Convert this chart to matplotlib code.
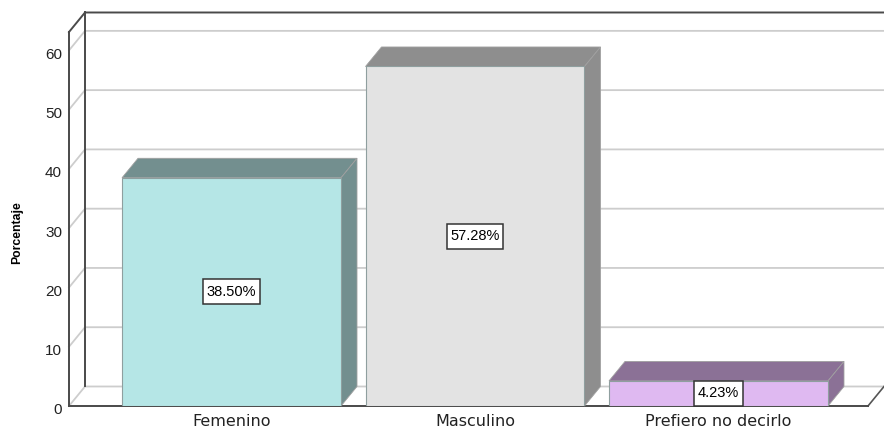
import matplotlib
matplotlib.use('Agg')
import matplotlib.pyplot as plt
from matplotlib.patches import Polygon
from matplotlib.path import Path
from matplotlib.transforms import ScaledTranslation

categories = ['Femenino', 'Masculino', 'Prefiero no decirlo']
values = [38.50, 57.28, 4.23]
bar_labels = ['38.50%', '57.28%', '4.23%']
front_colors = ['#b5e6e6', '#e3e3e3', '#dfb9f1']
side_colors = ['#738f8f', '#8e8e8e', '#8b7196']
y_ticks = [0, 10, 20, 30, 40, 50, 60]

W, H = 884, 430
fig = plt.figure(figsize=(W / 100, H / 100), dpi=100)
ax = fig.add_axes([69 / W, (H - 406) / H, 799 / W, 374 / H])

# one category step is 243.5 px, one y unit is 5.925 px
x_min, x_max = -0.6674, 2.614
y_min, y_max = 0, 63.1
ax.set_xlim(x_min, x_max)
ax.set_ylim(y_min, y_max)
bar_width = 219 / 243.5
dx = 16 / 243.5
dy = 19.5 / 5.925


def label_box(x0, y0, width, height, mutation_size):
    # value boxes are taller than a plain square pad gives
    px = 0.25 * mutation_size
    py = 0.38 * mutation_size
    x1, y1 = x0 + width + px, y0 + height + py
    x0, y0 = x0 - px, y0 - py
    return Path([(x0, y0), (x1, y0), (x1, y1), (x0, y1), (x0, y0)], closed=True)


for s in ax.spines.values():
    s.set_visible(False)
ax.patch.set_visible(False)

# back wall, side wall and floor
grid_col = '#cdcdcd'
for t in y_ticks:
    ax.plot([x_min, x_min + dx, x_max + dx], [t, t + dy, t + dy], color=grid_col, lw=1.3,
            clip_on=False, zorder=1, solid_joinstyle='miter')
ax.plot([x_max, x_max + dx], [0, dy], color='#555555', lw=1.2, clip_on=False, zorder=1)

dark = '#4a4a4a'
ax.plot([x_min, x_min], [0, y_max], color=dark, lw=1.4, clip_on=False, zorder=2)
ax.plot([x_min + dx, x_min + dx], [dy, y_max + dy], color=dark, lw=1.4, clip_on=False, zorder=2)
ax.plot([x_min, x_min + dx, x_max + dx], [y_max, y_max + dy, y_max + dy], color=dark, lw=1.4,
        clip_on=False, zorder=2, solid_joinstyle='miter')
ax.plot([x_min, x_max], [0, 0], color=dark, lw=1.4, clip_on=False, zorder=2)

# 3d bars
for i, v in enumerate(values):
    left = i - bar_width / 2
    right = i + bar_width / 2
    ax.bar(i, v, width=bar_width, color=front_colors[i], edgecolor='#8f9f9f', linewidth=0.8, zorder=4)
    ax.add_patch(Polygon([(left, v), (left + dx, v + dy), (right + dx, v + dy), (right, v)],
                         facecolor=side_colors[i], edgecolor='#a0a0a0', linewidth=0.6, zorder=3,
                         clip_on=False))
    ax.add_patch(Polygon([(right, 0), (right + dx, dy), (right + dx, v + dy), (right, v)],
                         facecolor=side_colors[i], edgecolor='#a0a0a0', linewidth=0.6, zorder=3,
                         clip_on=False))
    ax.text(i, v / 2, bar_labels[i], ha='center', va='center', fontsize=10.5, color='black', zorder=6,
            fontfamily='Liberation Sans',
            bbox=dict(boxstyle=label_box, facecolor='white', edgecolor='#333333', linewidth=1.1))

ax.set_xticks(range(len(categories)))
ax.set_xticklabels(categories, fontsize=11.5, color='#222222', fontfamily='DejaVu Sans')
ax.set_yticks(y_ticks)
ax.tick_params(axis='x', length=0, pad=5.5)
ax.tick_params(axis='y', length=0, pad=5, labelsize=11, labelcolor='#222222')

# y labels sit a bit below their gridlines
shift = ScaledTranslation(0, -3 / 100, fig.dpi_scale_trans)
for lab in ax.get_yticklabels():
    lab.set_fontfamily('Liberation Sans')
    lab.set_transform(lab.get_transform() + shift)

fig.text(17 / W, 1 - 233 / H, 'Porcentaje', rotation=90, ha='center', va='center',
         fontsize=8.8, fontweight='bold', color='black', fontfamily='Liberation Sans')

fig.savefig('out.png', dpi=100)
